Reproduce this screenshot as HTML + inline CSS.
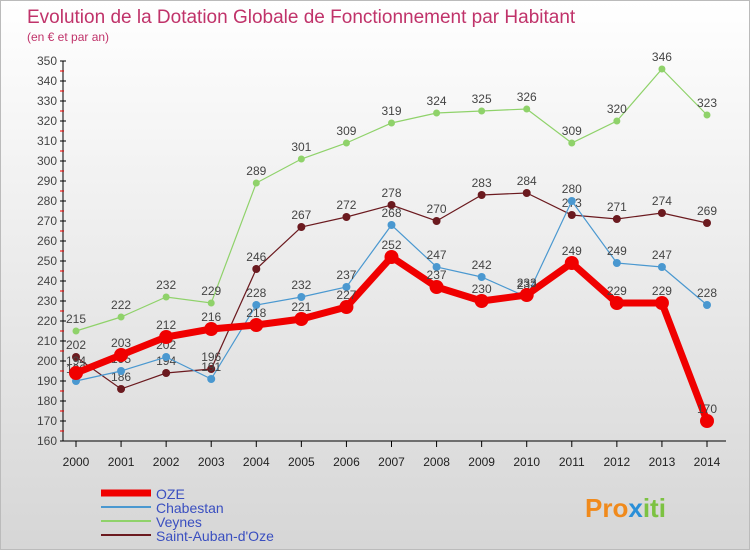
<!DOCTYPE html>
<html><head><meta charset="utf-8"><style>
body{margin:0;width:750px;height:550px;overflow:hidden;font-family:"Liberation Sans","DejaVu Sans",sans-serif}
#wrap{position:relative;width:748px;height:548px;border:1px solid #bbb;background:linear-gradient(#fff,#d6d6d6)}
</style></head><body>
<div id="wrap">
<svg id="chart" width="748" height="548" xmlns="http://www.w3.org/2000/svg">
<text x="26" y="22" font-size="19" fill="#c0336a">Evolution de la Dotation Globale de Fonctionnement par Habitant</text>
<text x="26" y="40" font-size="12" fill="#c0336a">(en € et par an)</text>
<g id="axes"></g><g id="series"></g><g id="legend"></g>
<text x="584" y="516" font-size="26" font-weight="bold" fill="#f08a1c">Pro<tspan fill="#2a8fd8">x</tspan><tspan fill="#7cc242">iti</tspan></text>
</svg></div>
<script>
const years=[2000,2001,2002,2003,2004,2005,2006,2007,2008,2009,2010,2011,2012,2013,2014];
const yTicks=[160,170,180,190,200,210,220,230,240,250,260,270,280,290,300,310,320,330,340,350];
const oze=[194,203,212,216,218,221,227,252,237,230,233,249,229,229,170];
const chabestan=[190,195,202,191,228,232,237,268,247,242,232,280,249,247,228];
const veynes=[215,222,232,229,289,301,309,319,324,325,326,309,320,346,323];
const stAuban=[202,186,194,196,246,267,272,278,270,283,284,273,271,274,269];
const NS="http://www.w3.org/2000/svg";
const X=i=>75+i*(706-75)/(years.length-1);
const Y=v=>60+(350-v)*2;
function mk(t,a,p){const e=document.createElementNS(NS,t);for(const k in a)e.setAttribute(k,a[k]);(p||document.getElementById('series')).appendChild(e);return e;}
const ax=document.getElementById('axes');
let e=mk('line',{x1:62,y1:60,x2:62,y2:440,stroke:'#000'},ax);


e=mk('line',{x1:62,y1:440,x2:725,y2:440,stroke:'#000'},ax);


yTicks.forEach(v=>{mk('line',{x1:59,x2:65,y1:Y(v),y2:Y(v),stroke:'#000'},ax);
 if(v>160)mk('line',{x1:59,x2:63,y1:Y(v)+10,y2:Y(v)+10,stroke:'#e00'},ax);
 const t=mk('text',{x:56,y:Y(v)+4,'font-size':12,fill:'#444','text-anchor':'end'},ax);t.textContent=v;
 
 });
years.forEach((y,i)=>{mk('line',{x1:X(i),x2:X(i),y1:440,y2:446,stroke:'#000'},ax);
 const t=mk('text',{x:X(i),y:465,'font-size':12,fill:'#222','text-anchor':'middle'},ax);t.textContent=y;
 
 });
const series=[
 {d:veynes,c:'#8fd26a',w:1.2,r:3.5,n:'veynes'},
 {d:stAuban,c:'#6b1a1f',w:1.2,r:4,n:'saint-auban'},
 {d:chabestan,c:'#4a98d0',w:1.2,r:4,n:'chabestan'},
 {d:oze,c:'#f00000',w:7,r:7,n:'oze'}];
series.forEach(s=>{
 const g=mk('g',{});
 
 
 mk('polyline',{points:s.d.map((v,i)=>X(i)+','+Y(v)).join(' '),fill:'none',stroke:s.c,'stroke-width':s.w},g);
 s.d.forEach((v,i)=>{const c=mk('circle',{cx:X(i),cy:Y(v),r:s.r,fill:s.c},g);
  
  
  const t=mk('text',{x:X(i),y:Y(v)-8,'font-size':12,fill:'#444','text-anchor':'middle'},g);t.textContent=v;
  
  });
});
const lg=document.getElementById('legend');
[['OZE','#f00000',7],['Chabestan','#4a98d0',2],['Veynes','#8fd26a',2],['Saint-Auban-d\'Oze','#6b1a1f',2]].forEach((l,i)=>{
 const y=492+i*14;
 const ln=mk('line',{x1:100,x2:150,y1:y,y2:y,stroke:l[1],'stroke-width':l[2]},lg);
 
 
 const t=mk('text',{x:155,y:y+6,'font-size':14,fill:'#3a4fc0'},lg);t.textContent=l[0];
 
 
});
</script>
</body></html>
